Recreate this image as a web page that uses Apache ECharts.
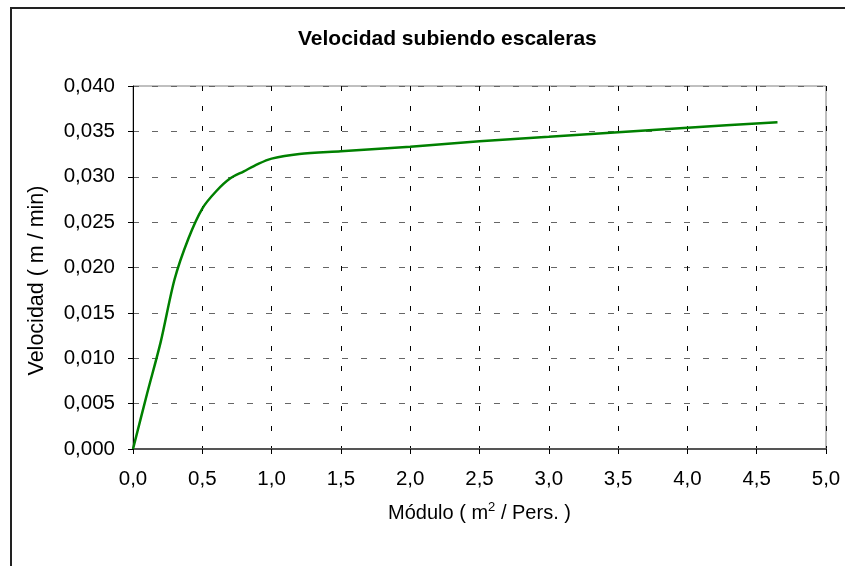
<!DOCTYPE html>
<html>
<head>
<meta charset="utf-8">
<script src="https://cdn.jsdelivr.net/npm/echarts@6/dist/echarts.min.js"></script>
<style>
  html, body { margin: 0; padding: 0; background: #fff; }
  #chart { width: 845px; height: 566px; }
</style>
</head>
<body>
<div id="chart"></div>
<script>
  // modulo (m2/pers) vs velocidad (m/min)
  var modulo = [0, 0.1, 0.2, 0.3, 0.4, 0.5, 0.6, 0.7, 0.8, 0.9, 1.0, 1.2, 1.5, 2.0, 2.5, 3.0, 3.5, 4.0, 4.65]
  var velocidad = [0, 0.0060, 0.0118, 0.0187, 0.0232, 0.0265, 0.0284, 0.0298, 0.0306, 0.0314, 0.0320, 0.0325, 0.0328, 0.0333, 0.0339, 0.0344, 0.0349, 0.0354, 0.0360]

  var points = []
  for (var i = 0; i < modulo.length; i++) {
    points.push([modulo[i], velocidad[i]])
  }

  var chart = echarts.init(document.getElementById('chart'))
  chart.setOption({
    animation: false,
    textStyle: { fontFamily: 'Liberation Sans, Arial, sans-serif' },
    title: {
      text: 'Velocidad subiendo escaleras',
      left: 298,
      top: 29,
      padding: 0,
      textStyle: { fontSize: 21, fontWeight: 'bold', color: '#000' }
    },
    graphic: [{
      type: 'rect',
      shape: { x: 11, y: 8, width: 900, height: 700 },
      style: { fill: 'none', stroke: '#222', lineWidth: 2 },
      silent: true
    }],
    grid: {
      left: 133,
      top: 86,
      right: 19,
      bottom: 117,
      show: true,
      borderColor: '#808080',
      borderWidth: 1
    },
    xAxis: {
      type: 'value',
      min: 0,
      max: 5,
      interval: 0.5,
      name: '{a|Módulo ( m}{s|2}{a| / Pers. )}',
      nameLocation: 'middle',
      nameGap: 52,
      nameTextStyle: {
        rich: {
          a: { fontSize: 20, color: '#000' },
          s: { fontSize: 13, color: '#000', padding: [0, 0, 11, 0] }
        }
      },
      axisLine: { lineStyle: { color: '#555', width: 2 } },
      axisTick: { show: true, length: 5, lineStyle: { color: '#000' } },
      axisLabel: {
        fontSize: 20.5,
        color: '#000',
        margin: 20,
        formatter: function (v) { return v.toFixed(1).replace('.', ',') }
      },
      splitLine: { show: true, lineStyle: { color: '#000', type: [5, 15], width: 1 } }
    },
    yAxis: {
      type: 'value',
      min: 0,
      max: 0.04,
      interval: 0.005,
      name: 'Velocidad ( m / min)',
      nameLocation: 'middle',
      nameGap: 85,
      nameTextStyle: { fontSize: 21.5, color: '#000', padding: [0, 26, 0, 0] },
      axisLine: { show: true, lineStyle: { color: '#000', width: 1 } },
      axisTick: { show: true, length: 5, lineStyle: { color: '#000' } },
      axisLabel: {
        fontSize: 20.5,
        color: '#000',
        margin: 18,
        formatter: function (v) { return v.toFixed(3).replace('.', ',') }
      },
      splitLine: { show: true, lineStyle: { color: '#666', type: [6, 13], width: 1 } }
    },
    series: [{
      type: 'line',
      data: points,
      smooth: 0.3,
      showSymbol: false,
      lineStyle: { color: '#008000', width: 2.5 }
    }]
  })
</script>
</body>
</html>
